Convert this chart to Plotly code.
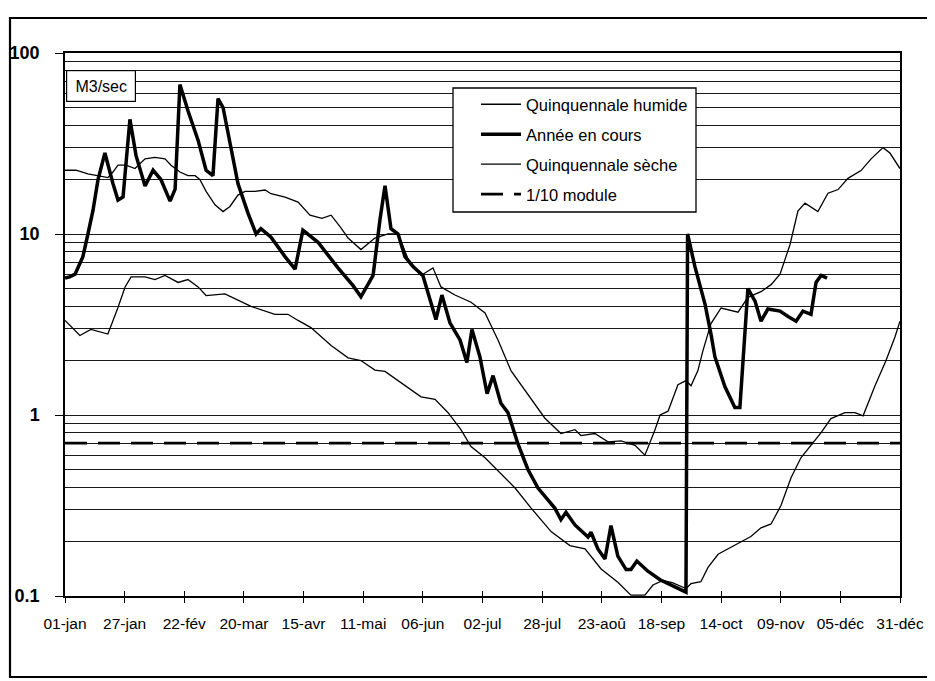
import plotly.graph_objects as go

# ---- data (day of year, discharge m3/s) ----
tick_days = [0, 26, 52, 78, 104, 130, 156, 182, 208, 234, 260, 286, 312, 338, 364]
tick_labels = ["01-jan", "27-jan", "22-fév", "20-mar", "15-avr", "11-mai", "06-jun",
               "02-jul", "28-jul", "23-aoû", "18-sep", "14-oct", "09-nov", "05-déc", "31-déc"]

hum_days = [0, 4.8, 10, 14.4, 18.7, 20.9, 23.1, 26.6, 30.5, 34.9,
            39.2, 43.6, 46.2, 50.1, 53.6, 56.7, 58.8, 61.5, 65.4, 68.9,
            71.9, 75.4, 78.5, 82.8, 87.2, 89.8, 95.9, 101.6, 106.8, 112,
            116, 120.3, 123.4, 129, 135.1, 140.8, 145.2, 149.5, 155.2, 160.4,
            163.9, 170, 177, 183.1, 188.8, 194.4, 201.8, 209.2, 216.2, 222.3,
            224.9, 231, 236.7, 242.4, 248.5, 252.8, 257.2, 259.4, 262.9, 267.2,
            270.7, 272.9, 275.9, 278.1, 281.6, 286, 293.4, 297.7, 303.4, 307.8,
            311.7, 316, 319.5, 322.6, 328.2, 332.6, 337, 341.3, 347, 351.4,
            356.6, 359.6, 364]
hum_vals = [22.5, 22.5, 21.5, 21, 20.5, 22, 24, 24, 23, 26,
            26.5, 26, 24, 22, 21, 21, 20, 17.2, 14.5, 13.3,
            14.2, 16.4, 17.2, 17.2, 17.5, 16.7, 16, 15, 12.7, 12.2,
            12.7, 10.8, 9.5, 8.2, 9.5, 10, 10, 7.3, 5.9, 6.5,
            5.1, 4.6, 4.2, 3.66, 2.59, 1.76, 1.31, 0.96, 0.79, 0.83,
            0.77, 0.79, 0.71, 0.72, 0.68, 0.6, 0.83, 1.0, 1.05, 1.47,
            1.55, 1.45, 1.76, 2.27, 3.2, 3.9, 3.7, 4.47, 4.8, 5.25,
            6.0, 8.7, 13.4, 14.8, 13.3, 16.8, 17.6, 20.3, 22.4, 26,
            30, 28, 23]

cur_days = [0, 2, 4.4, 7.8, 10, 12.2, 14.4, 17.4, 20.9, 23.1,
            25.3, 28.3, 31, 34.9, 38.4, 41.8, 45.8, 48, 50.1, 53.6,
            58, 61.5, 64.5, 66.7, 68.9, 71, 75.4, 79.8, 83.3, 85.4,
            89.8, 95.9, 100.3, 103.7, 108.1, 110.3, 119, 125.5, 129, 134.3,
            137.3, 139.5, 142.1, 145.2, 148.2, 151.7, 156, 161.7, 164.3, 167.8,
            172.2, 175.2, 177.4, 180.9, 184, 186.6, 190, 193.1, 197.5, 201.8,
            206.2, 213.6, 216.2, 218.4, 222.3, 228, 229.3, 232.3, 235.4, 238,
            241, 244.6, 246.7, 249.3, 254.1, 259.4, 270.7, 271.4, 274.6, 279,
            281.6, 283.3, 287.7, 292, 294.2, 296.4, 297.7, 300.8, 303.4, 306.4,
            311.7, 315.2, 318.7, 321.7, 325.2, 327.4, 329.6, 332.2]
cur_vals = [5.7, 5.8, 6.0, 7.5, 10, 13.5, 20, 28, 19, 15.4,
            16, 43, 27, 18.4, 22.5, 20, 15.2, 17.7, 67, 48,
            33, 22.5, 21, 56, 50, 36, 19, 13, 10, 10.7,
            9.6, 7.5, 6.4, 10.5, 9.5, 9, 6.5, 5.2, 4.5, 5.9,
            12, 18.5, 10.7, 10, 7.5, 6.6, 5.9, 3.37, 4.6, 3.23,
            2.6, 1.95, 2.97, 2.09, 1.31, 1.65, 1.16, 1.03, 0.69, 0.5,
            0.395, 0.305, 0.264, 0.29, 0.247, 0.212, 0.225, 0.182, 0.16, 0.245,
            0.166, 0.14, 0.14, 0.156, 0.137, 0.123, 0.105, 10, 6.6, 4.1,
            2.8, 2.1, 1.43, 1.1, 1.1, 3.0, 5.0, 4.26, 3.3, 3.85,
            3.75, 3.5, 3.3, 3.75, 3.6, 5.4, 5.9, 5.7]

sec_days = [0, 6.5, 11.3, 18.7, 23.1, 26.2, 28.8, 34.9, 39.2, 43.6,
            49.3, 53.6, 58, 61.5, 69.7, 72.4, 81.1, 91.5, 97.2, 101.6,
            107.2, 116, 123.4, 129, 135.1, 139.5, 145.2, 155.2, 161.3, 167,
            172.6, 177, 183.1, 188.8, 196.2, 203.1, 211.9, 220.1, 226.7, 233.7,
            241, 246.7, 252.8, 256.3, 260.7, 265, 270.7, 272.9, 277.2, 280.3,
            284.7, 290.3, 294.7, 299, 303.4, 307.8, 312.1, 316.5, 320.8, 325.2,
            329.6, 333.9, 340, 344.4, 347.9, 353.1, 357.9, 361.8, 364]
sec_vals = [3.33, 2.75, 2.97, 2.8, 3.93, 5.1, 5.8, 5.8, 5.6, 5.9,
            5.4, 5.6, 5.1, 4.57, 4.67, 4.5, 3.98, 3.6, 3.6, 3.33,
            3.04, 2.42, 2.07, 2.0, 1.77, 1.74, 1.55, 1.26, 1.22, 1.03,
            0.83, 0.67, 0.58, 0.49, 0.395, 0.307, 0.227, 0.19, 0.182, 0.141,
            0.119, 0.101, 0.101, 0.115, 0.122, 0.118, 0.11, 0.117, 0.12, 0.144,
            0.17, 0.186, 0.2, 0.213, 0.238, 0.25, 0.316, 0.45, 0.58, 0.68,
            0.8, 0.955, 1.03, 1.03, 0.99, 1.45, 2.0, 2.7, 3.3]

mod_days = [0, 364]
mod_vals = [0.7, 0.7]

y_ticks = [0.1, 1, 10, 100]
y_labels = ["0.1", "1", "10", "100"]

# ---- figure ----
FONT = "Liberation Sans, Arial, sans-serif"
fig = go.Figure()
fig.add_trace(go.Scatter(x=hum_days, y=hum_vals, mode="lines", name="Quinquennale humide",
                         legendgroup="a", line=dict(color="black", width=1.3)))
fig.add_trace(go.Scatter(x=cur_days, y=cur_vals, mode="lines", name="Année en cours",
                         legendgroup="b", line=dict(color="black", width=3.5)))
fig.add_trace(go.Scatter(x=sec_days, y=sec_vals, mode="lines", name="Quinquennale sèche",
                         legendgroup="c", line=dict(color="black", width=1.3)))
fig.add_trace(go.Scatter(x=mod_days, y=mod_vals, mode="lines", name="1/10 module",
                         legendgroup="d", line=dict(color="black", width=2.8, dash="22px,11px")))
# helper trace for the crossing tick marks on the x axis
fig.add_trace(go.Scatter(x=[None], y=[None], xaxis="x2", showlegend=False, hoverinfo="skip"))

OFF = 8  # page body margin
W, H = 935 - OFF, 681 - OFF
# plot area in screen pixels: left 65, right 900, top 53, bottom 596
L, T = 65 - OFF, 53 - OFF
R = W - (900 - OFF)
B = H - (596 - OFF)
pw, ph = W - L - R, H - T - B

def px(x):
    return (x - OFF - L) / pw

def py(y):
    return (H - B - (y - OFF)) / ph

fig.update_layout(
    width=W, height=H,
    margin=dict(l=L, r=R, t=T, b=B, autoexpand=False),
    paper_bgcolor="white", plot_bgcolor="white",
    font=dict(family=FONT, color="black", size=15),
    showlegend=True,
    legend=dict(x=px(476), y=py(87), xanchor="left", yanchor="top",
                bgcolor="rgba(0,0,0,0)", borderwidth=0,
                font=dict(family=FONT, size=16.5, color="black"),
                tracegroupgap=5.5, itemwidth=40),
    xaxis=dict(range=[0, 364], tickmode="array", tickvals=tick_days, ticktext=tick_labels,
               automargin=False,
               showgrid=False, zeroline=False, showline=True, linecolor="black", linewidth=1.5,
               mirror=True, ticks="outside", ticklen=5, tickwidth=1.2, tickcolor="black",
               tickfont=dict(family=FONT, size=15.5, color="black"), ticklabelstandoff=8),
    xaxis2=dict(range=[0, 364], overlaying="x", matches="x", tickmode="array", tickvals=tick_days,
                automargin=False,
                showticklabels=False, showgrid=False, zeroline=False, showline=False,
                ticks="inside", ticklen=5, tickwidth=1.2, tickcolor="black", side="bottom"),
    yaxis=dict(type="log", range=[-1, 2], tickmode="array", tickvals=y_ticks, ticktext=y_labels,
               automargin=False,
               showgrid=True, gridcolor="#1a1a1a", gridwidth=1,
               minor=dict(dtick="D1", showgrid=True, gridcolor="#1a1a1a", gridwidth=1, ticks=""),
               zeroline=False, showline=True, linecolor="black", linewidth=1.5, mirror=True,
               ticks="outside", ticklen=8, tickwidth=1.2, tickcolor="black",
               tickfont=dict(family=FONT, size=18, color="black", weight="bold"),
               ticklabelstandoff=12),
    shapes=[
        # legend box
        dict(type="rect", xref="paper", yref="paper", x0=px(453), x1=px(696), y0=py(212), y1=py(88),
             line=dict(color="black", width=1.3), fillcolor="white", layer="above"),
        # outer chart frame
        dict(type="rect", xref="paper", yref="paper", x0=px(10), x1=px(929), y0=py(677), y1=py(18),
             line=dict(color="black", width=2.2), fillcolor="rgba(0,0,0,0)", layer="above"),
    ],
    annotations=[
        dict(text="M3/sec", xref="paper", yref="paper", x=px(66), y=py(70), xanchor="left",
             yanchor="top", showarrow=False, font=dict(family=FONT, size=16, color="black"),
             bordercolor="black", borderwidth=1.2, bgcolor="white", width=66, height=28, borderpad=1),
    ],
)

fig.write_html("out.html")
